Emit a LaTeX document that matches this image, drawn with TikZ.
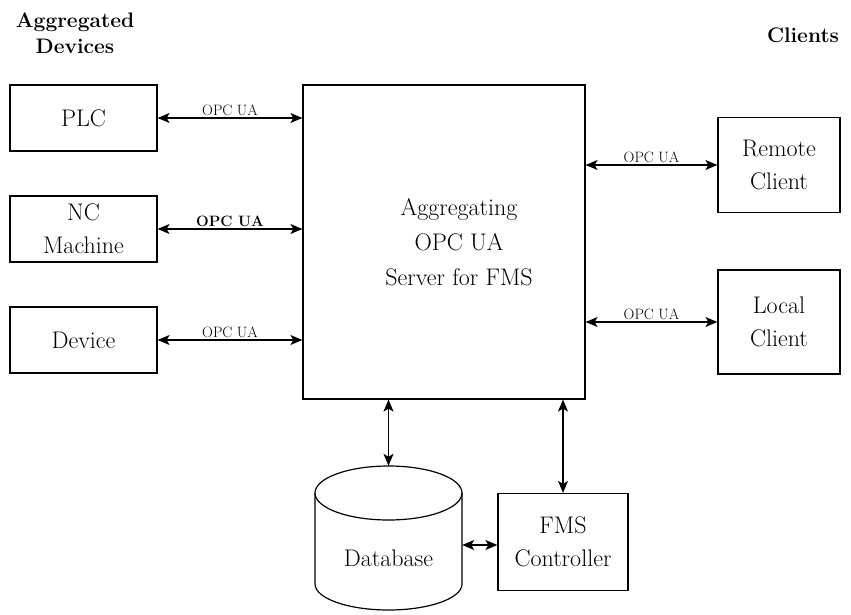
\documentclass[tikz,border=0pt]{standalone}
\usetikzlibrary{arrows.meta}
\begin{document}
\begin{tikzpicture}[x=1pt,y=-1pt,
  box/.style={draw,line width=1.2pt,inner sep=0pt,align=center,font=\fontsize{24}{33}\selectfont},
  link/.style={line width=1.2pt,{Stealth[length=12pt,width=10pt,inset=3pt]}-{Stealth[length=12pt,width=10pt,inset=3pt]}},
  lbl/.style={font=\fontsize{15}{17}\selectfont,inner sep=1.5pt,anchor=south},
  head/.style={font=\bfseries\fontsize{21}{26}\selectfont,align=center}]
\useasboundingbox (0,0) rectangle (851,615);

% column headings
\node[head] (hdev) at (75,33) {Aggregated\\Devices};
\node[head] (hcli) at (803,35) {Clients};

% aggregated devices
\node[box,minimum width=147pt,minimum height=66pt] (plc) at (83.5,118) {PLC};
\node[box,minimum width=147pt,minimum height=66pt] (nc) at (83.5,229) {NC\\Machine};
\node[box,minimum width=147pt,minimum height=66pt] (dev) at (83.5,340) {Device};

% aggregating server
\node[box,minimum width=282pt,minimum height=314pt] (srv) at (444,242) {};
\node[align=center,font=\fontsize{24}{35}\selectfont] (srvtext) at (459,242) {Aggregating\\OPC UA\\Server for FMS};

% clients
\node[box,minimum width=122pt,minimum height=95pt] (rc) at (779,165) {Remote\\Client};
\node[box,minimum width=122pt,minimum height=104pt] (lc) at (779,322) {Local\\Client};

% FMS controller
\node[box,minimum width=130pt,minimum height=97pt] (fms) at (563,542) {FMS\\Controller};

% database cylinder
\node[minimum width=147pt,minimum height=144pt,inner sep=0pt] (db) at (388.5,538) {};
\draw[line width=1.2pt,fill=white] (315,493) -- (315,584) arc[start angle=180,end angle=360,x radius=73.5,y radius=-26] -- (462,493);
\draw[line width=1.2pt] (388.5,493) ellipse[x radius=73.5,y radius=27];
\node[font=\fontsize{24}{30}\selectfont] (dbtext) at (388.5,558) {Database};

% device links
\draw[link] (plc.east) -- (plc.east -| srv.west) node[lbl,midway] {OPC UA};
\draw[link] (nc.east) -- (nc.east -| srv.west) node[lbl,midway,font=\bfseries\fontsize{15}{17}\selectfont] {OPC UA};
\draw[link] (dev.east) -- (dev.east -| srv.west) node[lbl,midway] {OPC UA};

% client links
\draw[link] (rc.west -| srv.east) -- (rc.west) node[lbl,midway] {OPC UA};
\draw[link] (lc.west -| srv.east) -- (lc.west) node[lbl,midway] {OPC UA};

% bottom links
\draw[link] (db.north |- srv.south) -- (db.north);
\draw[link] (fms.north |- srv.south) -- (fms.north);
\draw[link] (db.east |- 0,545) -- (fms.west |- 0,545);
\end{tikzpicture}
\end{document}
